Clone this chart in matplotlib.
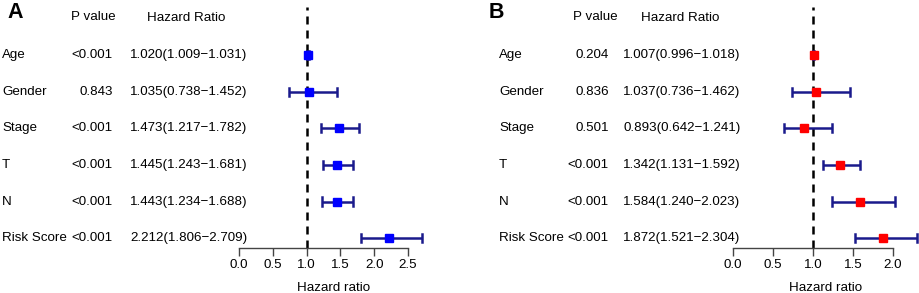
import matplotlib
matplotlib.use("Agg")
import matplotlib.pyplot as plt
from matplotlib.transforms import blended_transform_factory

plt.rcParams["font.family"] = ["Liberation Sans", "DejaVu Sans"]

# ---- data ----
variables = ["Age", "Gender", "Stage", "T", "N", "Risk Score"]

pval_a = ["<0.001", "0.843", "<0.001", "<0.001", "<0.001", "<0.001"]
hr_a = [1.020, 1.035, 1.473, 1.445, 1.443, 2.212]
low_a = [1.009, 0.738, 1.217, 1.243, 1.234, 1.806]
high_a = [1.031, 1.452, 1.782, 1.681, 1.688, 2.709]
ticks_a = [0.0, 0.5, 1.0, 1.5, 2.0, 2.5]

pval_b = ["0.204", "0.836", "0.501", "<0.001", "<0.001", "<0.001"]
hr_b = [1.007, 1.037, 0.893, 1.342, 1.584, 1.872]
low_b = [0.996, 0.736, 0.642, 1.131, 1.240, 1.521]
high_b = [1.018, 1.462, 1.241, 1.592, 2.023, 2.304]
ticks_b = [0.0, 0.5, 1.0, 1.5, 2.0]

W, H = 920, 293
FS = 9.6
LINE_COL = "#1a1a8c"
AXIS_COL = "#444444"


def fx(px):
    return px / W


def forest_panel(fig, letter, pvals, hr, low, high, ticks, cfg):
    # cfg holds pixel positions for this panel
    ax = fig.add_axes([fx(cfg["ax_left"]), (H - 248) / H,
                       fx(cfg["ax_width"]), (248 - 5) / H])
    rows = list(range(len(variables)))
    ax.set_ylim(5.27, -1.37)
    ax.set_xlim(0, cfg["xmax"])

    ax.axvline(1.0, ymin=0, ymax=0.99, color="black", lw=1.8,
               ls=(0, (3.2, 2.4)), zorder=1)
    for y, h, lo, hi in zip(rows, hr, low, high):
        ax.plot([lo, hi], [y, y], color=LINE_COL, lw=1.8, zorder=2,
                solid_capstyle="butt")
        ax.plot([lo, lo], [y - 0.11, y + 0.11], color=LINE_COL, lw=1.8, zorder=2)
        ax.plot([hi, hi], [y - 0.11, y + 0.11], color=LINE_COL, lw=1.8, zorder=2)
    ax.plot(hr, rows, ls="none", marker="s", ms=cfg["ms"],
            color=cfg["color"], zorder=3)

    for s in ["top", "right", "left"]:
        ax.spines[s].set_visible(False)
    ax.spines["bottom"].set_bounds(ticks[0], ticks[-1])
    ax.spines["bottom"].set_color(AXIS_COL)
    ax.spines["bottom"].set_linewidth(1.0)
    ax.set_yticks([])
    ax.set_xticks(ticks)
    ax.set_xticklabels([f"{t:.1f}" for t in ticks], fontsize=FS)
    ax.tick_params(axis="x", direction="out", length=6, width=1.0,
                   color=AXIS_COL, pad=2)
    ax.set_xlabel("Hazard ratio", fontsize=FS, labelpad=8)

    tr = blended_transform_factory(fig.transFigure, ax.transData)
    for y, name, p, h, lo, hi in zip(rows, variables, pvals, hr, low, high):
        ax.text(fx(cfg["name_x"]), y, name, transform=tr, fontsize=FS,
                ha="left", va="center")
        ax.text(fx(cfg["p_x"]), y, p, transform=tr, fontsize=FS,
                ha="right", va="center")
        ax.text(fx(cfg["hr_x"]), y, f"{h:.3f}({lo:.3f}\u2212{hi:.3f})",
                transform=tr, fontsize=FS, ha="left", va="center")
    ax.text(fx(cfg["ph_x"]), -1.04, "P value", transform=tr, fontsize=FS,
            ha="center", va="center")
    ax.text(fx(cfg["hh_x"]), -1.02, "Hazard Ratio", transform=tr, fontsize=FS,
            ha="center", va="center")
    fig.text(fx(cfg["letter_x"]), 1 - 12.5 / H, letter, fontsize=15.5,
             fontweight="bold", ha="center", va="center")
    return ax


fig = plt.figure(figsize=(W / 100, H / 100), dpi=100)

cfg_a = dict(ax_left=239, ax_width=2.8 * 67.6, xmax=2.8, ms=6, color="#0000ff",
             name_x=2, p_x=113, hr_x=130, ph_x=93, hh_x=186, letter_x=15)
cfg_b = dict(ax_left=733, ax_width=2.32 * 80, xmax=2.32, ms=6, color="#ff0000",
             name_x=499, p_x=609, hr_x=623, ph_x=595, hh_x=680, letter_x=496)

forest_panel(fig, "A", pval_a, hr_a, low_a, high_a, ticks_a, cfg_a)
forest_panel(fig, "B", pval_b, hr_b, low_b, high_b, ticks_b, cfg_b)

fig.savefig("out.png", dpi=100)
